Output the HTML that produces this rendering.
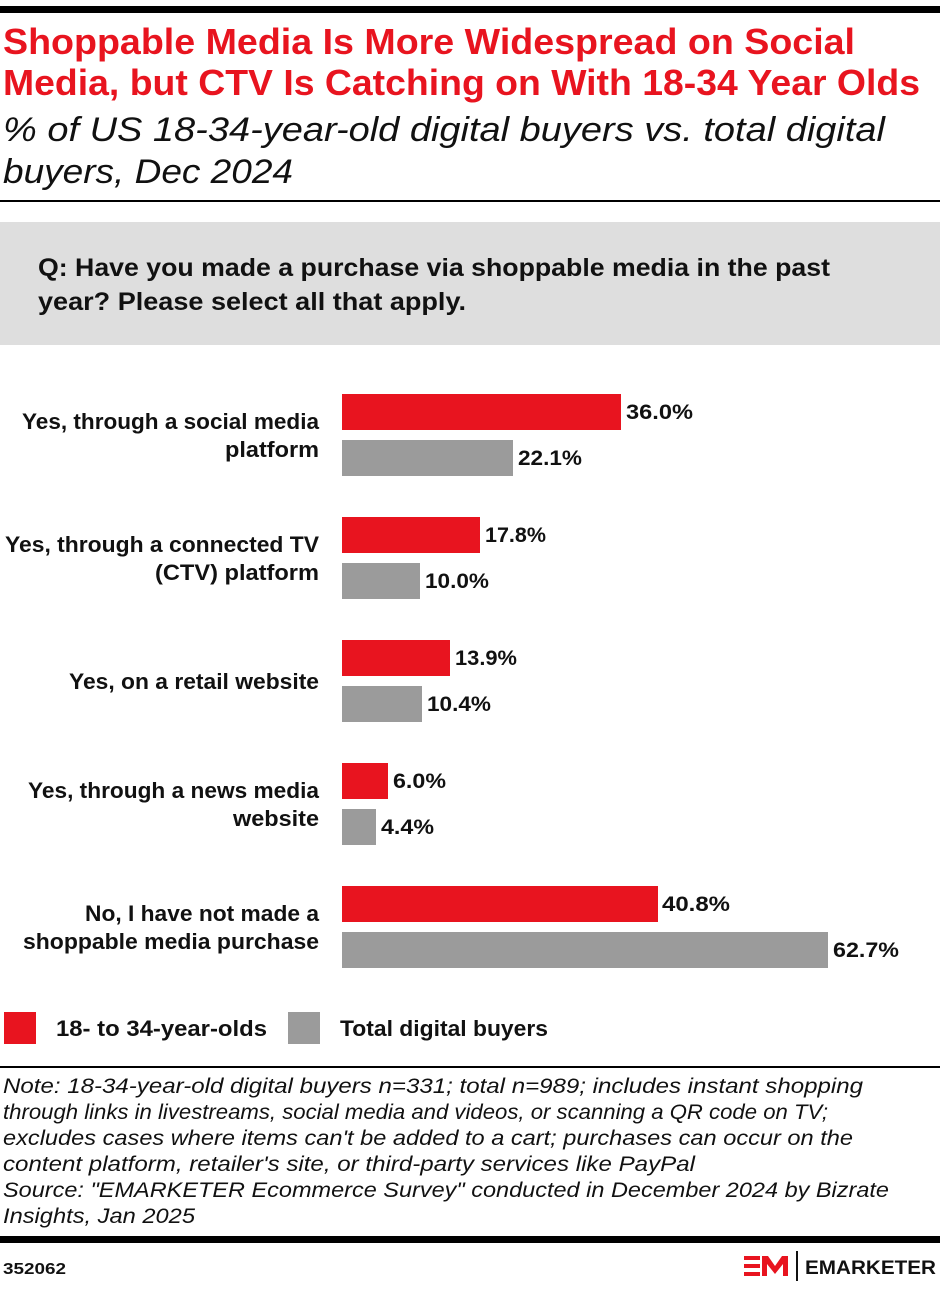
<!DOCTYPE html>
<html><head><meta charset="utf-8"><style>
html,body{margin:0;padding:0;background:#fff}
svg{display:block}
text{font-family:"Liberation Sans",sans-serif}
.b{font-weight:bold}
.i{font-style:italic}
</style></head><body>
<svg width="940" height="1292" viewBox="0 0 940 1292" xmlns="http://www.w3.org/2000/svg">
<rect x="0" y="6" width="940" height="7" fill="#000"/>
<text x="3" y="54" class="b" font-size="36" fill="#e8141f" textLength="852" lengthAdjust="spacingAndGlyphs">Shoppable Media Is More Widespread on Social</text>
<text x="3" y="95" class="b" font-size="36" fill="#e8141f" textLength="917" lengthAdjust="spacingAndGlyphs">Media, but CTV Is Catching on With 18-34 Year Olds</text>
<text x="3" y="141" class="i" font-size="34" fill="#111" textLength="882" lengthAdjust="spacingAndGlyphs">% of US 18-34-year-old digital buyers vs. total digital</text>
<text x="3" y="183" class="i" font-size="34" fill="#111" textLength="290" lengthAdjust="spacingAndGlyphs">buyers, Dec 2024</text>
<rect x="0" y="200" width="940" height="2" fill="#000"/>
<rect x="0" y="222" width="940" height="123" fill="#dedede"/>
<text x="38" y="276" class="b" font-size="25" fill="#111" textLength="792" lengthAdjust="spacingAndGlyphs">Q: Have you made a purchase via shoppable media in the past</text>
<text x="38" y="310" class="b" font-size="25" fill="#111" textLength="428" lengthAdjust="spacingAndGlyphs">year? Please select all that apply.</text>
<g font-size="22" class="b" fill="#111" text-anchor="end" lengthAdjust="spacingAndGlyphs">
<text x="319" y="429" textLength="297" lengthAdjust="spacingAndGlyphs">Yes, through a social media</text>
<text x="319" y="457" textLength="94" lengthAdjust="spacingAndGlyphs">platform</text>
<text x="319" y="552" textLength="314" lengthAdjust="spacingAndGlyphs">Yes, through a connected TV</text>
<text x="319" y="580" textLength="164" lengthAdjust="spacingAndGlyphs">(CTV) platform</text>
<text x="319" y="689" textLength="250" lengthAdjust="spacingAndGlyphs">Yes, on a retail website</text>
<text x="319" y="798" textLength="291" lengthAdjust="spacingAndGlyphs">Yes, through a news media</text>
<text x="319" y="826" textLength="86" lengthAdjust="spacingAndGlyphs">website</text>
<text x="319" y="921" textLength="234" lengthAdjust="spacingAndGlyphs">No, I have not made a</text>
<text x="319" y="949" textLength="296" lengthAdjust="spacingAndGlyphs">shoppable media purchase</text>
</g>
<g fill="#e8141f">
<rect x="342" y="394" width="279" height="36"/>
<rect x="342" y="517" width="138" height="36"/>
<rect x="342" y="640" width="108" height="36"/>
<rect x="342" y="763" width="46" height="36"/>
<rect x="342" y="886" width="316" height="36"/>
</g>
<g fill="#9b9b9b">
<rect x="342" y="440" width="171" height="36"/>
<rect x="342" y="563" width="78" height="36"/>
<rect x="342" y="686" width="80" height="36"/>
<rect x="342" y="809" width="34" height="36"/>
<rect x="342" y="932" width="486" height="36"/>
</g>
<g font-size="21" class="b" fill="#111">
<text x="626" y="419" textLength="67" lengthAdjust="spacingAndGlyphs">36.0%</text>
<text x="518" y="465" textLength="64" lengthAdjust="spacingAndGlyphs">22.1%</text>
<text x="485" y="542" textLength="61" lengthAdjust="spacingAndGlyphs">17.8%</text>
<text x="425" y="588" textLength="64" lengthAdjust="spacingAndGlyphs">10.0%</text>
<text x="455" y="665" textLength="62" lengthAdjust="spacingAndGlyphs">13.9%</text>
<text x="427" y="711" textLength="64" lengthAdjust="spacingAndGlyphs">10.4%</text>
<text x="393" y="788" textLength="53" lengthAdjust="spacingAndGlyphs">6.0%</text>
<text x="381" y="834" textLength="53" lengthAdjust="spacingAndGlyphs">4.4%</text>
<text x="662" y="911" textLength="68" lengthAdjust="spacingAndGlyphs">40.8%</text>
<text x="833" y="957" textLength="66" lengthAdjust="spacingAndGlyphs">62.7%</text>
</g>
<rect x="4" y="1012" width="32" height="32" fill="#e8141f"/>
<text x="56" y="1036" class="b" font-size="22" fill="#111" textLength="211" lengthAdjust="spacingAndGlyphs">18- to 34-year-olds</text>
<rect x="288" y="1012" width="32" height="32" fill="#9b9b9b"/>
<text x="340" y="1036" class="b" font-size="22" fill="#111" textLength="208" lengthAdjust="spacingAndGlyphs">Total digital buyers</text>
<rect x="0" y="1066" width="940" height="2" fill="#000"/>
<g class="i" font-size="21" fill="#111">
<text x="3" y="1093" textLength="860" lengthAdjust="spacingAndGlyphs">Note: 18-34-year-old digital buyers n=331; total n=989; includes instant shopping</text>
<text x="3" y="1119" textLength="825" lengthAdjust="spacingAndGlyphs">through links in livestreams, social media and videos, or scanning a QR code on TV;</text>
<text x="3" y="1145" textLength="850" lengthAdjust="spacingAndGlyphs">excludes cases where items can't be added to a cart; purchases can occur on the</text>
<text x="3" y="1171" textLength="692" lengthAdjust="spacingAndGlyphs">content platform, retailer's site, or third-party services like PayPal</text>
<text x="3" y="1197" textLength="886" lengthAdjust="spacingAndGlyphs">Source: "EMARKETER Ecommerce Survey" conducted in December 2024 by Bizrate</text>
<text x="3" y="1223" textLength="192" lengthAdjust="spacingAndGlyphs">Insights, Jan 2025</text>
</g>
<rect x="0" y="1236" width="940" height="7" fill="#000"/>
<text x="3" y="1274" class="b" font-size="16" fill="#111" textLength="63" lengthAdjust="spacingAndGlyphs">352062</text>
<g fill="#e8141f">
<rect x="744" y="1256" width="16" height="4"/>
<rect x="744" y="1264" width="16" height="4"/>
<rect x="744" y="1272" width="16" height="4"/>
<polygon points="762,1276 762,1256 768,1256 775,1266 782,1256 788,1256 788,1276 783,1276 783,1264 775,1274 767,1264 767,1276"/>
</g>
<rect x="796" y="1251" width="2" height="30" fill="#111"/>
<text x="805" y="1274" class="b" font-size="19" fill="#111" textLength="131" lengthAdjust="spacingAndGlyphs">EMARKETER</text>
</svg>
</body></html>
